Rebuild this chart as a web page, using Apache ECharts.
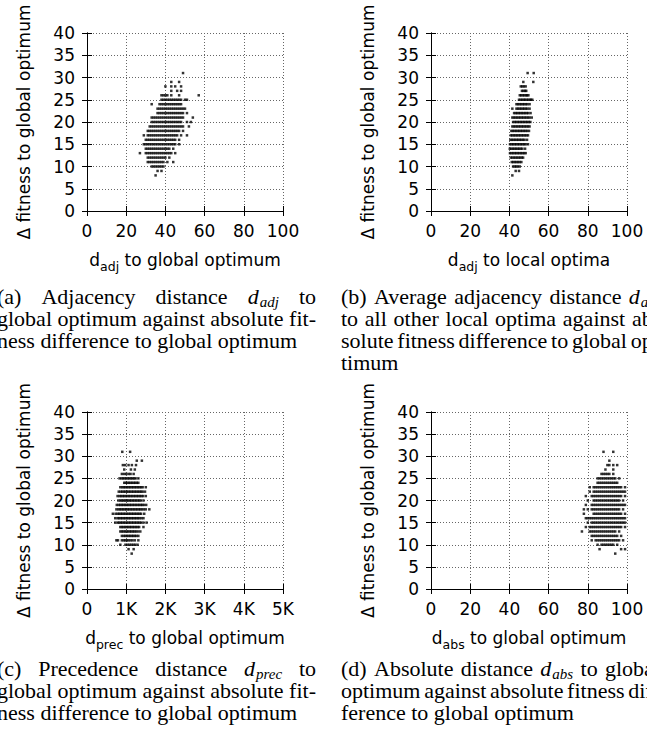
<!DOCTYPE html>
<html><head><meta charset="utf-8">
<script src="https://cdn.jsdelivr.net/npm/echarts@6/dist/echarts.min.js"></script>
<style>html,body{margin:0;padding:0;background:#fff;overflow:hidden}#c{width:647px;height:736px}</style>
</head><body><div id="c"></div>
<script>
// ---------- data ----------
const fitnessLevels = [31,30,29,28,27,26,25,24,23,22,21,20,19,18,17,16,15,14,13,12,11,10,9,8];
const yTicks = [0,5,10,15,20,25,30,35,40];
const distTicks = [0,20,40,60,80,100];
const precTickLabels = ['0','1K','2K','3K','4K','5K'];

// (a) d_adj to global optimum, one list of x values per fitness level
const adjGlobalX = [
 [49], [], [43,47], [40,43,45,48], [43,46,48], [38,39,40,41,43,47,57],
 [38,39,40,41,42,43,44,45,46,47,48,50,51],
 [33,37,38,39,40,41,42,43,44,45,46,47,48],
 [36,37,38,39,40,41,42,43,44,45,46,47,48,49,50],
 [36,37,38,39,40,41,42,43,44,45,46,47,48,49,51],
 [33,34,35,36,37,38,39,40,41,42,43,44,45,46,47,48,49,54],
 [33,34,35,36,37,38,39,40,41,42,43,44,45,46,47,48,51,53],
 [32,33,34,35,36,37,38,39,40,41,42,43,44,45,46,47,48,49,52],
 [31,32,33,34,35,36,37,38,39,40,41,42,43,44,45,46,47,49],
 [29,31,32,33,34,35,36,37,38,39,40,41,42,43,44,45,46,48,51],
 [30,31,32,33,34,35,36,37,38,39,40,41,42,43,44,45,47],
 [29,30,31,32,33,34,35,36,37,38,39,40,41,42,43,44,45,47],
 [30,31,32,33,34,35,36,37,38,39,40,41,42,44],
 [27,30,31,32,33,34,35,36,37,38,39,40,41,42,43,45],
 [31,32,33,34,35,36,37,38,39,40,42],
 [31,32,33,34,35,36,37,38,39,41,44],
 [33,34,35,36,37,38,39],
 [36,38], [35]
];
// (b) average d_adj to local optima
const adjLocalX = [
 [49.3,52.4], [], [47.1,52.2], [45.8,46.6,47.4,48.3], [46.4,47.2,48,48.6],
 [45.3,46,46.8,47.6,48.4,49,49.7],
 [44.9,45.7,46.5,47.3,48,48.8,49.6,50.4,51,51.7],
 [43.6,44.4,45.2,46,46.8,47.6,48.4,49.2,50.3],
 [41.5,43.6,44.4,45.2,46,46.8,47.6,48.4,49.2,50.3],
 [42.4,43.2,44,44.8,45.6,46.4,47.2,48,48.8,49.6,50.8],
 [41.5,42.3,43.1,43.9,44.7,45.5,46.3,47.1,47.9,48.7,49.5,50.3,51.4],
 [41.9,42.7,43.5,44.3,45.1,45.9,46.7,47.5,48.3,49.1,49.9,50.7],
 [41.5,42.3,43.1,43.9,44.7,45.5,46.3,47.1,47.9,48.7,49.5,50.3],
 [41,41.8,42.6,43.4,44.2,45,45.8,46.6,47.4,48.2,49,50],
 [40.7,41.5,42.3,43.1,43.9,44.7,45.5,46.3,47.1,47.9,48.7,49.5],
 [40.5,41.3,42.1,42.9,43.7,44.5,45.3,46.1,46.9,47.7,49],
 [40.3,41.1,41.9,42.7,43.5,44.3,45.1,45.9,46.7,47.5,48.3,49.5],
 [40.2,41,41.8,42.6,43.4,44.2,45,45.8,46.6,48],
 [40.3,41.1,41.9,42.7,43.5,44.3,45.1,45.9,46.7,47.5,48.3],
 [40.7,41.5,42.3,43.1,43.9,44.7,45.5,46.3,47],
 [41.2,42,42.8,43.6,44.4,45.2,46.1],
 [41.9,42.7,43.5,44.3,45.3],
 [43.2,44.9], [41.5]
];
// (c) d_prec to global optimum
const precGlobalX = [
 [900,1100], [], [1270,1400], [915,975,1060,1145,1250], [950,1120,1220],
 [890,950,1000,1060,1110,1190],
 [830,880,920,960,1000,1040,1080,1120,1160,1200,1240,1310],
 [950,990,1030,1070,1110,1150,1190,1230,1270,1310],
 [850,900,940,980,1020,1060,1100,1140,1180,1220,1260,1300,1340,1380,1420,1500],
 [810,860,900,940,980,1020,1060,1100,1140,1180,1220,1260,1300,1340,1380,1420,1480],
 [780,830,870,910,950,990,1030,1070,1110,1150,1190,1230,1270,1310,1350,1390,1430,1500],
 [800,850,890,930,970,1010,1050,1090,1130,1170,1210,1250,1290,1330,1370,1440],
 [760,810,850,890,930,970,1010,1050,1090,1130,1170,1210,1250,1290,1330,1370,1410,1450,1510],
 [750,800,840,880,920,960,1000,1040,1080,1120,1160,1200,1240,1280,1320,1360,1400,1450,1500,1590],
 [660,730,780,820,860,900,940,980,1020,1060,1100,1140,1180,1220,1260,1300,1340,1380,1460],
 [720,780,820,860,900,940,980,1020,1060,1100,1140,1180,1220,1260,1300,1340,1390,1440],
 [720,780,820,860,900,940,980,1020,1060,1100,1140,1180,1220,1260,1300,1340,1380,1440,1520],
 [850,890,930,970,1010,1050,1090,1130,1170,1210,1250,1290,1330,1440],
 [850,890,930,970,1010,1050,1090,1130,1170,1210,1250,1300,1360],
 [890,940,980,1020,1060,1100,1140,1180,1220,1260,1310],
 [750,790,890,940,980,1020,1060,1110,1160,1220,1310],
 [850,980,1030,1080,1130,1180,1230,1290],
 [1060,1190], [1140]
];
// (d) d_abs to global optimum
const absGlobalX = [
 [88,93], [], [91], [90,91,93,95], [89,93], [87,88,89,90,91,93],
 [85,86,87,88,89,90,91,92,93,94,96],
 [85,86,87,88,89,90,91,92,93,94,95],
 [81,83,84,85,86,87,88,89,90,91,92,93,94,95,96,97,99],
 [81,83,84,85,86,87,88,89,90,91,92,93,94,95,96,97,98,99],
 [79,82,83,84,85,86,87,88,89,90,91,92,93,94,95,96,97,99],
 [80,83,84,85,86,87,88,89,90,91,92,93,94,95,96,98],
 [79,82,83,84,85,86,87,88,89,90,91,92,93,94,95,96,97,98,99],
 [78,80,82,83,84,85,86,87,88,89,90,91,92,93,94,95,96,98],
 [78,83,84,85,86,87,88,89,90,91,92,93,94,95,96,97,99],
 [79,80,81,82,83,84,85,86,87,88,89,90,91,92,93,94,95,96,97,98,99],
 [80,82,83,84,85,86,87,88,89,90,91,92,93,94,95,96,97,98,99],
 [79,81,82,83,84,85,86,87,88,89,90,91,92,93,94,95,96,97,99],
 [77,81,82,83,84,85,86,87,88,89,90,91,92,93,94,96],
 [82,83,84,85,86,87,88,89,90,91,92,93,94,95,97],
 [82,84,85,86,87,88,89,90,91,92,93,94,95,96,98],
 [85,87,88,89,90,91,92,93,95],
 [86,97,99], [94]
];

// captions (tokens; {d:'sub'} = math d with subscript)
const capA = [
 ['(a)','Adjacency','distance',{d:'adj'},'to'],
 ['global','optimum','against','absolute','fit-'],
 ['ness','difference','to','global','optimum']
];
const capB = [
 ['(b)','Average','adjacency','distance',{d:'adj'}],
 ['to','all','other','local','optima','against','ab-'],
 ['solute','fitness','difference','to','global','op-'],
 ['timum']
];
const capC = [
 ['(c)','Precedence','distance',{d:'prec'},'to'],
 ['global','optimum','against','absolute','fit-'],
 ['ness','difference','to','global','optimum']
];
const capD = [
 ['(d)','Absolute','distance',{d:'abs'},'to','global'],
 ['optimum','against','absolute','fitness','dif-'],
 ['ference','to','global','optimum']
];

// ---------- build ----------
const SANS = 'DejaVu Sans';
const SERIF = 'Liberation Serif';
const yTitle = '\u0394 fitness to global optimum';

function points(xLists) {
  const out = [];
  xLists.forEach((xs, i) => xs.forEach(x => out.push([x, fitnessLevels[i]])));
  return out;
}

const grids = [
  {left: 87, top: 33, width: 196, height: 178},
  {left: 431, top: 33, width: 196, height: 178},
  {left: 87, top: 412, width: 196, height: 177},
  {left: 431, top: 412, width: 196, height: 177}
];
const panels = [
  {data: adjGlobalX, xMax: 100, xInt: 20, sub: 'adj', rest: ' to global optimum', fmt: v => String(v)},
  {data: adjLocalX, xMax: 100, xInt: 20, sub: 'adj', rest: ' to local optima', fmt: v => String(v)},
  {data: precGlobalX, xMax: 5000, xInt: 1000, sub: 'prec', rest: ' to global optimum', fmt: v => precTickLabels[Math.round(v / 1000)]},
  {data: absGlobalX, xMax: 100, xInt: 20, sub: 'abs', rest: ' to global optimum', fmt: v => String(v)}
];

const lineSt = {color: '#000', width: 1};
const gridLine = {show: true, lineStyle: {color: '#666', width: 1, type: [1, 2]}};
const labelSt = {color: '#000', fontFamily: SANS, fontSize: 17};

const xAxes = [], yAxes = [], series = [];
panels.forEach((p, k) => {
  xAxes.push({
    type: 'value', gridIndex: k, position: 'bottom', min: 0, max: p.xMax, interval: p.xInt,
    axisLine: {show: true, lineStyle: lineSt},
    axisTick: {show: true, inside: true, length: 5, lineStyle: lineSt},
    axisLabel: Object.assign({margin: 11, formatter: p.fmt}, labelSt),
    splitLine: gridLine,
    name: '{b|d}{s|' + p.sub + '}{b|' + p.rest + '}',
    nameLocation: 'middle', nameGap: 38,
    nameTextStyle: {color: '#000', fontFamily: SANS, fontSize: 17, rich: {
      b: {color: '#000', fontFamily: SANS, fontSize: 17, lineHeight: 22},
      s: {color: '#000', fontFamily: SANS, fontSize: 12.5, lineHeight: 22, padding: [12, 0, 0, 0]}
    }}
  });
  xAxes.push({
    type: 'value', gridIndex: k, position: 'top', min: 0, max: p.xMax, interval: p.xInt,
    axisLine: {show: true, lineStyle: lineSt},
    axisTick: {show: true, inside: true, length: 5, lineStyle: lineSt},
    axisLabel: {show: false}, splitLine: {show: false}
  });
  yAxes.push({
    type: 'value', gridIndex: k, position: 'left', min: 0, max: 40, interval: 5,
    axisLine: {show: true, lineStyle: lineSt},
    axisTick: {show: true, inside: true, length: 5, lineStyle: lineSt},
    axisLabel: Object.assign({margin: 12}, labelSt),
    splitLine: gridLine,
    name: yTitle, nameLocation: 'middle', nameGap: 55,
    nameTextStyle: {color: '#000', fontFamily: SANS, fontSize: 17}
  });
  yAxes.push({
    type: 'value', gridIndex: k, position: 'right', min: 0, max: 40, interval: 5,
    axisLine: {show: true, lineStyle: lineSt},
    axisTick: {show: true, inside: true, length: 5, lineStyle: lineSt},
    axisLabel: {show: false}, splitLine: {show: false}
  });
  series.push({
    type: 'scatter', xAxisIndex: 2 * k, yAxisIndex: 2 * k, data: points(p.data),
    symbol: 'rect', symbolSize: 2.5, itemStyle: {color: '#000'}, silent: true, z: 5
  });
});

// justified caption text as graphic elements
const ctx = document.createElement('canvas').getContext('2d');
function tw(t, size, italic) {
  ctx.font = (italic ? 'italic ' : '') + size + "px '" + SERIF + "'";
  return ctx.measureText(t).width;
}
const CAP = 22, SUBSZ = 15, COLW = 319, LINE = 22, LH = 19;
function txt(t, x, y) {
  return {type: 'text', x: x, y: y, silent: true, z: 10,
    style: {text: t, fill: '#000', fontFamily: SERIF, fontSize: CAP, lineHeight: LH,
      textAlign: 'left', align: 'left', textVerticalAlign: 'middle', verticalAlign: 'middle'}};
}
function mathTxt(sub, x, y) {
  return {type: 'text', x: x, y: y, silent: true, z: 10,
    style: {text: '{m|d}{s|' + sub + '}', fill: '#000', fontFamily: SERIF, fontSize: CAP, lineHeight: LH,
      textAlign: 'left', align: 'left', textVerticalAlign: 'middle', verticalAlign: 'middle',
      rich: {
        m: {fill: '#000', color: '#000', fontFamily: SERIF, fontSize: CAP, fontStyle: 'italic', lineHeight: LH},
        s: {fill: '#000', color: '#000', fontFamily: SERIF, fontSize: SUBSZ, fontStyle: 'italic', lineHeight: LH, padding: [12, 0, 0, 1]}
      }}};
}
function caption(lines, left, base0) {
  const els = [];
  lines.forEach((toks, i) => {
    const ws = toks.map(t => typeof t === 'string' ? tw(t, CAP, false) : tw('d', CAP, true) + 1 + tw(t.d, SUBSZ, true));
    const sum = ws.reduce((a, b) => a + b, 0);
    const last = i === lines.length - 1;
    const gap = (last || toks.length < 2) ? CAP * 0.25 : (COLW - sum) / (toks.length - 1);
    const base = base0 + i * LINE;
    const yMid = base - 0.305 * CAP;
    let x = left;
    toks.forEach((t, j) => {
      if (typeof t === 'string') els.push(txt(t, x, yMid));
      else els.push(mathTxt(t.d, x, yMid));
      x += ws[j] + gap;
    });
  });
  return els;
}
const graphics = [].concat(
  caption(capA, -3, 303),
  caption(capB, 341, 303),
  caption(capC, -3, 675),
  caption(capD, 341, 675)
);

const chart = echarts.init(document.getElementById('c'), null, {renderer: 'svg', width: 647, height: 736});
chart.setOption({
  backgroundColor: '#fff',
  animation: false,
  grid: grids,
  xAxis: xAxes,
  yAxis: yAxes,
  series: series,
  graphic: {elements: graphics}
});
</script>
</body></html>
